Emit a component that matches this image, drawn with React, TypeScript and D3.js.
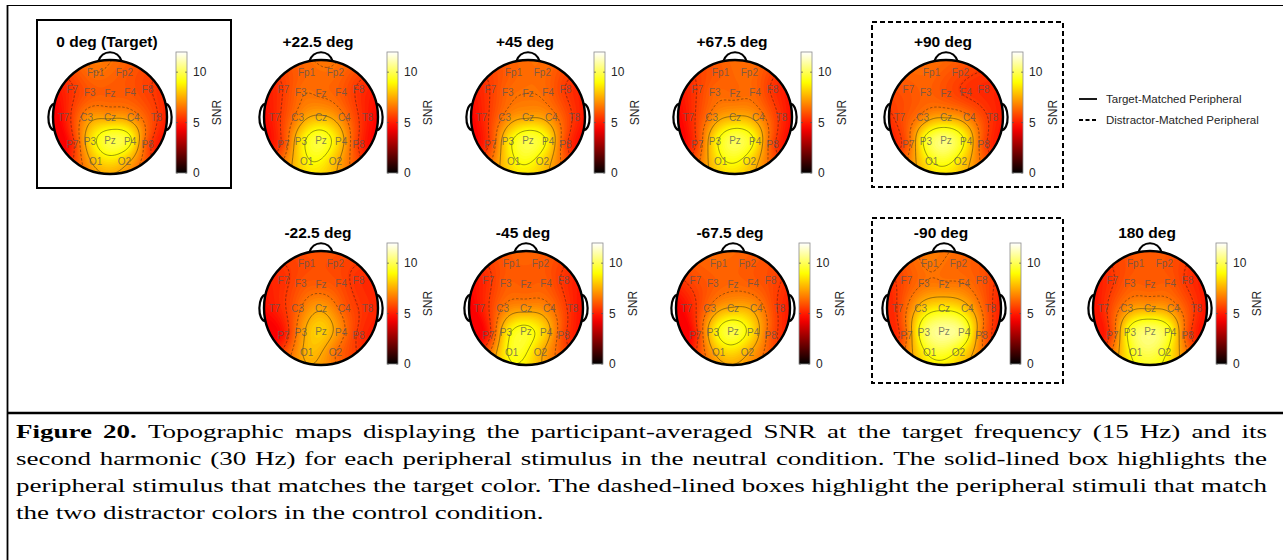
import React, { useMemo } from 'react';
import * as d3 from 'd3';

// 10-20 montage: label, polar angle (deg, 0 = nose, + = right), radius (0.5 = 90 deg)
const ELECTRODES = ['Fp1', 'Fp2', 'F7', 'F3', 'Fz', 'F4', 'F8', 'T7', 'C3', 'Cz', 'C4', 'T8', 'P7', 'P3', 'Pz', 'P4', 'P8', 'O1', 'O2'];
const THETA = [-18, 18, -54, -39.9, 0, 39.9, 54, -90, -90, 0, 90, 90, -126, -140.1, 180, 140.1, 126, -162, 162];
const RADIUS = [0.511, 0.511, 0.511, 0.345, 0.253, 0.345, 0.511, 0.511, 0.256, 0, 0.256, 0.511, 0.511, 0.345, 0.253, 0.345, 0.511, 0.511, 0.511];

// Participant-averaged SNR per electrode (same order as ELECTRODES)
const snrTarget = [6.5, 6.1, 5.4, 6.0, 6.1, 6.0, 5.6, 4.8, 6.9, 7.2, 6.9, 5.6, 5.1, 8.2, 9.8, 9.3, 6.0, 7.9, 8.0];
const snrPlus22 = [6.3, 6.4, 5.5, 6.4, 6.4, 6.1, 5.4, 5.1, 6.7, 7.6, 6.6, 5.0, 5.7, 8.4, 9.7, 8.0, 5.5, 8.8, 7.9];
const snrPlus45 = [6.2, 6.4, 5.5, 6.3, 6.5, 6.3, 5.5, 5.0, 6.6, 7.3, 6.9, 5.4, 5.6, 8.4, 9.8, 8.8, 5.8, 8.8, 8.4];
const snrPlus67 = [6.1, 6.4, 5.5, 6.3, 6.3, 6.3, 5.4, 5.0, 6.7, 7.5, 7.0, 5.3, 5.6, 8.5, 10.0, 8.9, 5.9, 8.7, 8.4];
const snrPlus90 = [6.3, 5.8, 6.0, 6.2, 5.9, 5.4, 5.2, 5.7, 6.7, 7.3, 6.6, 5.3, 6.1, 9.3, 10.4, 8.8, 5.9, 9.0, 8.5];
const snrMinus22 = [5.8, 5.8, 5.3, 5.9, 6.1, 5.8, 5.3, 5.0, 6.2, 7.3, 6.1, 5.3, 4.8, 7.0, 8.2, 6.9, 5.4, 7.7, 6.6];
const snrMinus45 = [6.1, 6.1, 5.3, 6.1, 6.1, 6.1, 5.4, 4.8, 6.5, 7.0, 6.7, 5.2, 5.0, 8.3, 9.4, 8.1, 5.8, 9.3, 7.8];
const snrMinus67 = [6.3, 6.1, 5.8, 6.1, 6.3, 6.1, 5.8, 4.8, 6.5, 7.5, 7.1, 5.4, 5.0, 8.3, 9.8, 8.4, 6.1, 7.9, 7.7];
const snrMinus90 = [6.6, 6.3, 5.9, 6.5, 6.6, 6.5, 6.0, 5.5, 7.8, 8.6, 7.8, 5.7, 6.3, 9.8, 10.8, 10.1, 6.7, 9.3, 8.9];
const snr180 = [6.0, 6.0, 5.4, 6.1, 6.1, 6.1, 5.4, 5.2, 6.9, 7.3, 6.9, 5.4, 5.8, 9.3, 10.3, 9.3, 6.0, 9.5, 9.3];

const TITLES = ['0 deg (Target)', '+22.5 deg', '+45 deg', '+67.5 deg', '+90 deg', '-22.5 deg', '-45 deg', '-67.5 deg', '-90 deg', '180 deg'];
const SERIES = [snrTarget, snrPlus22, snrPlus45, snrPlus67, snrPlus90, snrMinus22, snrMinus45, snrMinus67, snrMinus90, snr180];

const COLORBAR_TICKS = [0, 5, 10];
const SNR_MAX = 12;
const CONTOUR_LEVELS = [5.5, 6.5, 7.5, 9.0];
const CONTOUR_DASHED = [true, true, false, false];

const LEGEND_LABELS = ['Target-Matched Peripheral', 'Distractor-Matched Peripheral'];

const CAPTION_BOLD = 'Figure 20.';
const CAPTION_LINES = [
  'Topographic maps displaying the participant-averaged SNR at the target frequency (15 Hz) and its',
  'second harmonic (30 Hz) for each peripheral stimulus in the neutral condition. The solid-lined box highlights the',
  'peripheral stimulus that matches the target color. The dashed-lined boxes highlight the peripheral stimuli that match',
  'the two distractor colors in the control condition.',
];

// Layout
const PANEL_X = [110, 321, 528, 735, 946, 321, 526, 733, 944, 1150];
const PANEL_Y = [117, 117, 117, 117, 117, 308, 308, 308, 308, 308];
const HEAD_R = 57;
const PX_PER_UNIT = 91;

const SANS = 'Liberation Sans, Arial, Helvetica, sans-serif';
const SERIF = '"Liberation Serif", "Times New Roman", serif';

// caption typesetting
const CAP_SIZE = 19;
const CAP_SX = 1.42; // horizontal glyph scale
const CAP_LEFT = 16;
const CAP_RIGHT = 1267;
const CAP_BASE = 438;
const CAP_LEADING = 27;

// MATLAB-style "hot" colormap
function hot(t: number): string {
  const c = Math.max(0, Math.min(1, t));
  const r = Math.min(1, c / 0.375);
  const g = Math.max(0, Math.min(1, (c - 0.375) / 0.375));
  const b = Math.max(0, Math.min(1, (c - 0.75) / 0.25));
  return d3.rgb(r * 255, g * 255, b * 255).formatHex();
}
const color = d3.scaleSequential(hot).domain([0, SNR_MAX]);

// biharmonic spline (griddata v4) green function
function green(d: number) {
  return d === 0 ? 0 : d * d * (Math.log(d) - 1);
}

function solve(A: number[][], b: number[]) {
  const n = b.length;
  const M = A.map((row, i) => [...row, b[i]]);
  for (let k = 0; k < n; k++) {
    let p = k;
    for (let i = k + 1; i < n; i++) if (Math.abs(M[i][k]) > Math.abs(M[p][k])) p = i;
    [M[k], M[p]] = [M[p], M[k]];
    for (let i = k + 1; i < n; i++) {
      const f = M[i][k] / M[k][k];
      for (let j = k; j <= n; j++) M[i][j] -= f * M[k][j];
    }
  }
  const x = new Array(n).fill(0);
  for (let i = n - 1; i >= 0; i--) {
    let s = M[i][n];
    for (let j = i + 1; j < n; j++) s -= M[i][j] * x[j];
    x[i] = s / M[i][i];
  }
  return x;
}

const UNIT_POS = THETA.map((th, i) => {
  const a = (th * Math.PI) / 180;
  return [Math.sin(a) * RADIUS[i], -Math.cos(a) * RADIUS[i]];
});

const FILL_STEP = 0.15;
const FILL_LEVELS = d3.range(0, SNR_MAX + 0.001, FILL_STEP);

function buildTopo(values: number[], cx: number, cy: number) {
  const N = 96;
  const ext = HEAD_R + 4;
  const cell = (2 * ext) / N;
  const G = UNIT_POS.map((a) => UNIT_POS.map((b) => green(Math.hypot(a[0] - b[0], a[1] - b[1]))));
  const w = solve(G, values);
  const lo = (d3.min(values) as number) - 0.4;
  const hi = (d3.max(values) as number) + 0.2;
  const grid = new Array(N * N);
  for (let j = 0; j < N; j++) {
    for (let i = 0; i < N; i++) {
      const x = (-ext + (i + 0.5) * cell) / PX_PER_UNIT;
      const y = (-ext + (j + 0.5) * cell) / PX_PER_UNIT;
      let v = 0;
      for (let k = 0; k < UNIT_POS.length; k++) {
        v += w[k] * green(Math.hypot(x - UNIT_POS[k][0], y - UNIT_POS[k][1]));
      }
      grid[j * N + i] = Math.max(lo, Math.min(hi, v));
    }
  }
  const path = d3.geoPath(d3.geoIdentity().scale(cell).translate([cx - ext - cell / 2, cy - ext - cell / 2]) as any);
  const fills = d3.contours().size([N, N]).thresholds(FILL_LEVELS)(grid).map((c) => ({
    d: path(c as any) || '',
    fill: color(c.value + FILL_STEP / 2),
  }));
  const lines = d3.contours().size([N, N]).thresholds(CONTOUR_LEVELS)(grid).map((c, i) => ({
    d: path(c as any) || '',
    dashed: CONTOUR_DASHED[i],
  }));
  return { fills, lines };
}

function Topo({ idx }: { idx: number }) {
  const cx = PANEL_X[idx];
  const cy = PANEL_Y[idx];
  const R = HEAD_R;
  const { fills, lines } = useMemo(() => buildTopo(SERIES[idx], cx, cy), [idx]);
  const cbX = cx + 66;
  const cbW = 11;
  const y = d3.scaleLinear().domain([0, SNR_MAX]).range([cy + 56, cy - 65]);
  const clipId = `head-clip-${idx}`;
  const gradId = `cb-grad-${idx}`;
  const earDy = 13;
  const earX = Math.sqrt(R * R - earDy * earDy);
  return (
    <g>
      <defs>
        <clipPath id={clipId}>
          <circle cx={cx} cy={cy} r={R} />
        </clipPath>
        <linearGradient id={gradId} x1="0" y1="1" x2="0" y2="0">
          {d3.range(0, 1.0001, 0.05).map((t) => (
            <stop key={t} offset={t} stopColor={hot(t)} />
          ))}
        </linearGradient>
      </defs>
      <text x={cx - 3} y={cy - 70} textAnchor="middle" fontFamily={SANS} fontWeight="bold" fontSize={15.5} fill="#000">
        {TITLES[idx]}
      </text>
      {/* nose and ears */}
      <path
        d={`M${cx - 12},${cy - R + 2} C${cx - 8},${cy - R - 11} ${cx + 8},${cy - R - 11} ${cx + 12},${cy - R + 2}`}
        fill="#fff"
        stroke="#000"
        strokeWidth={2.2}
      />
      <path
        d={`M${cx - earX + 1},${cy - earDy} C${cx - earX - 8},${cy - earDy - 2} ${cx - earX - 9},${cy + earDy + 2} ${cx - earX + 1},${cy + earDy}`}
        fill="#fff"
        stroke="#000"
        strokeWidth={2.2}
      />
      <path
        d={`M${cx + earX - 1},${cy - earDy} C${cx + earX + 8},${cy - earDy - 2} ${cx + earX + 9},${cy + earDy + 2} ${cx + earX - 1},${cy + earDy}`}
        fill="#fff"
        stroke="#000"
        strokeWidth={2.2}
      />
      <g clipPath={`url(#${clipId})`}>
        <circle cx={cx} cy={cy} r={R} fill={color(5)} />
        {fills.map((f, i) => (
          <path key={i} d={f.d} fill={f.fill} stroke="none" />
        ))}
        {lines.map((l, i) => (
          <path
            key={i}
            d={l.d}
            fill="none"
            stroke="#1a1a1a"
            strokeOpacity={0.75}
            strokeWidth={0.6}
            strokeDasharray={l.dashed ? '2.5,1.8' : undefined}
          />
        ))}
      </g>
      <circle cx={cx} cy={cy} r={R} fill="none" stroke="#000" strokeWidth={2.4} />
      {ELECTRODES.map((name, k) => (
        <text
          key={name}
          x={cx + UNIT_POS[k][0] * PX_PER_UNIT}
          y={cy + UNIT_POS[k][1] * PX_PER_UNIT}
          textAnchor="middle"
          dominantBaseline="central"
          fontFamily={SANS}
          fontSize={10}
          fill="#555"
          fillOpacity={0.75}
        >
          {name}
        </text>
      ))}
      {/* colorbar */}
      <rect x={cbX} y={y(SNR_MAX)} width={cbW} height={y(0) - y(SNR_MAX)} fill={`url(#${gradId})`} stroke="#8c8c8c" strokeWidth={0.8} />
      {COLORBAR_TICKS.map((t) => (
        <g key={t}>
          <line x1={cbX + cbW - 2} x2={cbX + cbW} y1={y(t)} y2={y(t)} stroke="#555" strokeWidth={0.7} />
          <line x1={cbX} x2={cbX + 2} y1={y(t)} y2={y(t)} stroke="#555" strokeWidth={0.7} />
          <text x={cbX + cbW + 6} y={y(t)} dominantBaseline="central" fontFamily={SANS} fontSize={12} fill="#262626">
            {t}
          </text>
        </g>
      ))}
      <text
        transform={`translate(${cbX + 41},${(y(0) + y(SNR_MAX)) / 2}) rotate(-90)`}
        textAnchor="middle"
        dominantBaseline="central"
        fontFamily={SANS}
        fontSize={12}
        fill="#262626"
      >
        SNR
      </text>
    </g>
  );
}

// word-justified caption layout
type Word = { text: string; bold: boolean; x: number; w: number; y: number };
function layoutCaption(): Word[] {
  const ctx = document.createElement('canvas').getContext('2d') as CanvasRenderingContext2D;
  const measure = (s: string, bold: boolean) => {
    ctx.font = `${bold ? 'bold ' : ''}${CAP_SIZE}px ${SERIF}`;
    return ctx.measureText(s).width * CAP_SX;
  };
  const space = measure(' ', false);
  const out: Word[] = [];
  CAPTION_LINES.forEach((line, li) => {
    const words = line.split(' ').map((t) => ({ text: t, bold: false }));
    if (li === 0) {
      CAPTION_BOLD.split(' ')
        .reverse()
        .forEach((t) => words.unshift({ text: t, bold: true }));
    }
    const widths = words.map((wd) => measure(wd.text, wd.bold));
    const total = d3.sum(widths);
    const justify = li < CAPTION_LINES.length - 1;
    const gap = justify ? (CAP_RIGHT - CAP_LEFT - total) / (words.length - 1) : space;
    let x = CAP_LEFT;
    words.forEach((wd, i) => {
      out.push({ ...wd, x, w: widths[i], y: CAP_BASE + li * CAP_LEADING });
      x += widths[i] + gap;
    });
  });
  return out;
}

export default function App() {
  const caption = useMemo(layoutCaption, []);
  return (
    <svg width={1283} height={560} style={{ position: 'absolute', left: 0, top: 0, background: '#fff' }}>
      {/* table frame */}
      <line x1={7} x2={1283} y1={5.5} y2={5.5} stroke="#000" strokeWidth={1.2} />
      <line x1={7.5} x2={7.5} y1={5} y2={560} stroke="#000" strokeWidth={1.8} />
      <line x1={7} x2={1283} y1={413} y2={413} stroke="#000" strokeWidth={2.5} />

      {/* highlight boxes */}
      <rect x={37} y={20} width={194} height={168} fill="none" stroke="#000" strokeWidth={2} />
      <rect x={872} y={22} width={191} height={165} fill="none" stroke="#000" strokeWidth={2} strokeDasharray="5,3" />
      <rect x={872} y={218} width={191} height={165} fill="none" stroke="#000" strokeWidth={2} strokeDasharray="5,3" />

      {TITLES.map((_, i) => (
        <Topo key={i} idx={i} />
      ))}

      {/* legend */}
      <g fontFamily={SANS} fontSize={11.5} fill="#262626">
        <line x1={1079} x2={1097} y1={99} y2={99} stroke="#000" strokeWidth={1.8} />
        <text x={1106} y={99} dominantBaseline="central">{LEGEND_LABELS[0]}</text>
        <line x1={1079} x2={1097} y1={120} y2={120} stroke="#000" strokeWidth={1.8} strokeDasharray="4,2.5" />
        <text x={1106} y={120} dominantBaseline="central">{LEGEND_LABELS[1]}</text>
      </g>

      {/* caption */}
      <g fontFamily={SERIF} fontSize={CAP_SIZE} fill="#000">
        {caption.map((wd, i) => (
          <text key={i} x={wd.x} y={wd.y} fontWeight={wd.bold ? 'bold' : 'normal'} textLength={wd.w} lengthAdjust="spacingAndGlyphs">
            {wd.text}
          </text>
        ))}
      </g>
    </svg>
  );
}
